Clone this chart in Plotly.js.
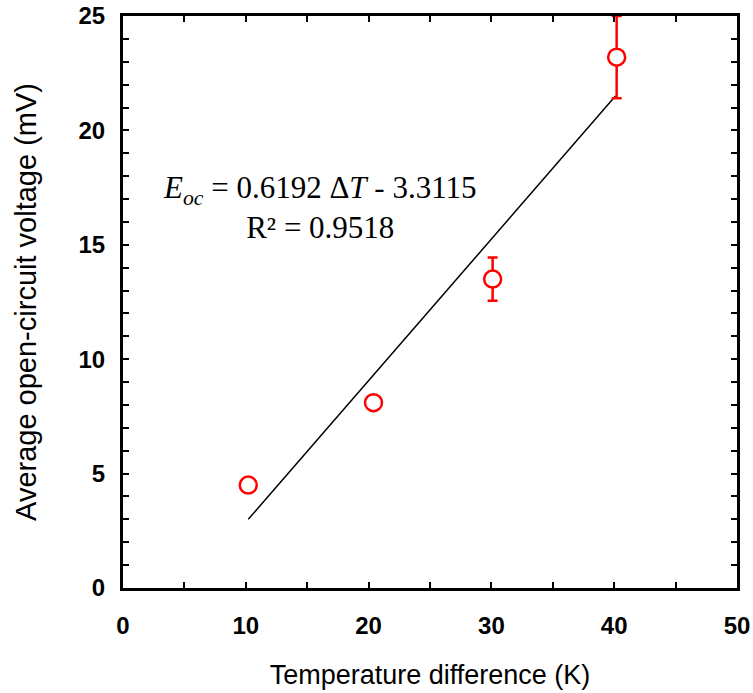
<!DOCTYPE html>
<html><head><meta charset="utf-8">
<script src="https://cdn.plot.ly/plotly-3.0.1.min.js"></script>
<style>body{margin:0;padding:0;background:#fff}#chart{width:753px;height:693px}</style>
</head><body><div id="chart"></div>
<script>
// Data
const deltaT = [10.2, 20.4, 30.1, 40.2];          // Temperature difference (K)
const voltage = [4.5, 8.1, 13.5, 23.2];           // Average open-circuit voltage (mV)
const voltageErr = [null, null, 0.95, 1.8];       // error bars (mV); none shown for first two
const fitX = [10.2, 40.1];                        // trendline ends (K)
const fitY = [3.0, 21.5];                         // trendline ends (mV)
const xTicks = [0, 10, 20, 30, 40, 50];
const yTicks = [0, 5, 10, 15, 20, 25];

const traces = [
  {x: fitX, y: fitY, type: 'scatter', mode: 'lines',
   line: {color: '#000', width: 1.5}, hoverinfo: 'skip', showlegend: false},
  {x: deltaT, y: voltage, type: 'scatter', mode: 'markers',
   marker: {symbol: 'circle', size: 17, color: '#ffffff', line: {color: '#ff0000', width: 2.5}},
   error_y: {type: 'data', array: voltageErr, visible: true, color: '#ff0000', thickness: 2.5, width: 5},
   showlegend: false, cliponaxis: false}
];

const tickFont = {family: 'Liberation Sans, Arial, sans-serif', size: 24, color: '#000'};
const titleFont = {family: 'Liberation Sans, Arial, sans-serif', size: 27, color: '#000'};

const axisCommon = {
  showgrid: false, zeroline: false, showline: true, linecolor: '#000', linewidth: 3,
  mirror: 'ticks', ticks: 'inside', ticklen: 6, tickwidth: 2, tickcolor: '#000',
  tickfont: tickFont
};

const layout = {
  width: 753, height: 693,
  margin: {l: 123, r: 16, t: 16, b: 105},
  paper_bgcolor: '#fff', plot_bgcolor: '#fff',
  showlegend: false,
  xaxis: Object.assign({}, axisCommon, {
    range: [0, 50], tickvals: xTicks, ticktext: xTicks.map(v => '<b>' + v + '</b>'),
    ticklabelstandoff: 14,
    minor: {dtick: 5, tick0: 0, ticks: 'inside', ticklen: 6, tickwidth: 2, tickcolor: '#000'},
    title: {text: 'Temperature difference (K)', standoff: 28, font: titleFont}
  }),
  yaxis: Object.assign({}, axisCommon, {
    range: [0, 25], tickvals: yTicks, ticktext: yTicks.map(v => '<b>' + v + '</b>'),
    ticklabelstandoff: 10,
    minor: {dtick: 1, tick0: 0, ticks: 'inside', ticklen: 6, tickwidth: 2, tickcolor: '#000'},
    title: {text: 'Average open-circuit voltage (mV)', standoff: 34,
            font: {family: 'Liberation Sans, Arial, sans-serif', size: 29, color: '#000'}}
  }),
  annotations: [{
    xref: 'paper', yref: 'paper', x: 0.321, y: 0.666, xanchor: 'center', yanchor: 'middle',
    showarrow: false, align: 'center',
    text: '<i>E</i><sub><i>oc</i></sub> = 0.6192 Δ<i>T</i> - 3.3115<br>R² = 0.9518',
    font: {family: 'Liberation Serif, Times New Roman, serif', size: 31, color: '#000'}
  }]
};

Plotly.newPlot('chart', traces, layout, {displayModeBar: false, staticPlot: true});
</script></body></html>
